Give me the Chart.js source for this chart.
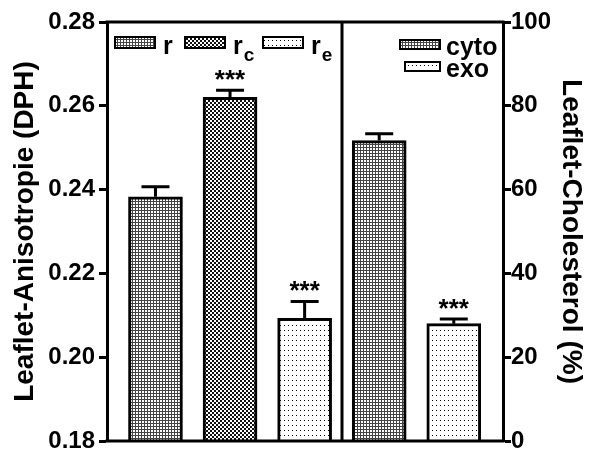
<!DOCTYPE html>
<html>
<head>
<meta charset="utf-8">
<script src="https://cdn.jsdelivr.net/npm/chart.js@4.4.0/dist/chart.umd.min.js"></script>
<style>
html, body { margin: 0; padding: 0; background: #fff; }
#wrap { width: 591px; height: 457px; }
</style>
</head>
<body>
<div id="wrap"><canvas id="chart"></canvas></div>
<script>
// left panel: anisotropy
const anisoLabels = ['r', 'r_c', 'r_e'];
const anisoValues = [0.2383, 0.2620, 0.2093];
const anisoErrors = [0.0024, 0.0017, 0.0040];
const anisoStars = ['', '***', '***'];
// right panel: cholesterol
const cholLabels = ['cyto', 'exo'];
const cholValues = [71.7, 28.0];
const cholErrors = [1.6, 1.1];
const cholStars = ['', '***'];
// axis ticks
const leftTicks = [0.18, 0.20, 0.22, 0.24, 0.26, 0.28];
const rightTicks = [0, 20, 40, 60, 80, 100];

const FONT = "'Liberation Sans', Arial, sans-serif";

function makePattern(kind) {
    const c = document.createElement('canvas');
    const ctx = c.getContext('2d');
    if (kind === 'grid') {
        c.width = 3; c.height = 3;
        ctx.fillStyle = '#fff'; ctx.fillRect(0, 0, 3, 3);
        ctx.fillStyle = '#444';
        ctx.fillRect(0, 0, 3, 1);
        ctx.fillRect(0, 0, 1, 3);
    } else if (kind === 'check') {
        c.width = 4; c.height = 4;
        ctx.fillStyle = '#fff'; ctx.fillRect(0, 0, 4, 4);
        ctx.fillStyle = '#111';
        ctx.fillRect(0, 0, 2, 2);
        ctx.fillRect(2, 2, 2, 2);
    } else {
        c.width = 4; c.height = 5;
        ctx.fillStyle = '#fff'; ctx.fillRect(0, 0, 4, 5);
        ctx.fillStyle = '#000';
        ctx.fillRect(0, 0, 1, 1);
    }
    return ctx.createPattern(c, 'repeat');
}

const pGrid = makePattern('grid');
const pCheck = makePattern('check');
const pDots = makePattern('dots');
const anisoFills = [pGrid, pCheck, pDots];
const cholFills = [pGrid, pDots];

function drawLabel(ctx, text, x, y) {
    const parts = text.split('_');
    ctx.font = 'bold 25px ' + FONT;
    ctx.fillText(parts[0], x, y);
    if (parts[1]) {
        const w = ctx.measureText(parts[0]).width;
        ctx.font = 'bold 19px ' + FONT;
        ctx.fillText(parts[1], x + w + 1, y + 7);
    }
}

const extras = {
    id: 'extras',
    afterDatasetsDraw(chart) {
        const ctx = chart.ctx;
        const a = chart.chartArea;
        const xs = chart.scales.x;
        ctx.save();
        ctx.strokeStyle = '#000';
        ctx.fillStyle = '#000';
        ctx.lineWidth = 3;
        // frame top / bottom and divider
        ctx.beginPath();
        ctx.moveTo(a.left - 1.5, a.top); ctx.lineTo(a.right + 1.5, a.top);
        ctx.moveTo(a.left - 1.5, a.bottom); ctx.lineTo(a.right + 1.5, a.bottom);
        const dx = Math.round(xs.getPixelForValue(2.5));
        ctx.moveTo(dx, a.top); ctx.lineTo(dx, a.bottom);
        ctx.stroke();

        // error bars and stars
        const groups = [
            { meta: chart.getDatasetMeta(0), scale: chart.scales.y, vals: anisoValues, errs: anisoErrors, stars: anisoStars },
            { meta: chart.getDatasetMeta(1), scale: chart.scales.y2, vals: cholValues, errs: cholErrors, stars: cholStars }
        ];
        groups.forEach(g => {
            g.meta.data.forEach((el, i) => {
                const top = g.scale.getPixelForValue(g.vals[i]);
                const cap = g.scale.getPixelForValue(g.vals[i] + g.errs[i]);
                ctx.beginPath();
                ctx.moveTo(el.x, top); ctx.lineTo(el.x, cap);
                ctx.moveTo(el.x - 14, cap); ctx.lineTo(el.x + 14, cap);
                ctx.stroke();
                if (g.stars[i]) {
                    ctx.font = 'bold 26px ' + FONT;
                    ctx.textAlign = 'center';
                    ctx.textBaseline = 'alphabetic';
                    ctx.fillText(g.stars[i], el.x, cap - 2);
                }
            });
        });

        // legends
        ctx.textAlign = 'left';
        ctx.textBaseline = 'alphabetic';
        ctx.lineWidth = 2;
        const leftBoxes = [115, 185, 263];
        anisoLabels.forEach((lab, i) => {
            ctx.fillStyle = anisoFills[i];
            ctx.fillRect(leftBoxes[i], 37, 40, 11);
            ctx.strokeRect(leftBoxes[i], 37, 40, 11);
            ctx.fillStyle = '#000';
            drawLabel(ctx, lab, leftBoxes[i] + 48, 54);
        });
        const rightBoxes = [[400, 40], [405, 62]];
        cholLabels.forEach((lab, i) => {
            const b = rightBoxes[i];
            ctx.fillStyle = cholFills[i];
            ctx.fillRect(b[0], b[1], 440 - b[0], 9);
            ctx.strokeRect(b[0], b[1], 440 - b[0], 9);
            ctx.fillStyle = '#000';
            drawLabel(ctx, lab, 446, b[1] + 15);
        });
        ctx.restore();
    }
};

const axisStyle = {
    grid: { drawOnChartArea: false, drawTicks: true, tickLength: 8, tickWidth: 3, color: '#000' },
    border: { display: true, width: 3, color: '#000' }
};
const tickFont = { family: FONT, size: 24, weight: 'bold', lineHeight: 1 };
const titleFont = { family: FONT, size: 28, weight: 'bold' };

new Chart(document.getElementById('chart'), {
    type: 'bar',
    data: {
        datasets: [
            {
                label: 'Leaflet-Anisotropie',
                data: anisoValues.map((v, i) => ({ x: i, y: v })),
                yAxisID: 'y',
                grouped: false,
                backgroundColor: anisoFills,
                borderColor: '#000',
                borderWidth: 3
            },
            {
                label: 'Leaflet-Cholesterol',
                data: cholValues.map((v, i) => ({ x: i + 3, y: v })),
                yAxisID: 'y2',
                grouped: false,
                backgroundColor: cholFills,
                borderColor: '#000',
                borderWidth: 3
            }
        ]
    },
    options: {
        responsive: true,
        maintainAspectRatio: false,
        animation: false,
        barThickness: 54,
        layout: { padding: { top: 22, bottom: 12 } },
        plugins: { legend: { display: false }, tooltip: { enabled: false } },
        scales: {
            x: {
                type: 'linear', display: false, offset: false, min: -0.65, max: 4.66,
                afterBuildTicks: s => { s.ticks = []; }
            },
            y: {
                ...axisStyle,
                position: 'left',
                min: 0.18, max: 0.28,
                afterBuildTicks: s => { s.ticks = leftTicks.map(v => ({ value: v })); },
                ticks: { color: '#000', font: tickFont, padding: 4, callback: v => v.toFixed(2) },
                title: { display: true, text: 'Leaflet-Anisotropie (DPH)', color: '#000', font: titleFont, padding: { top: 8, bottom: 0 } },
                afterFit: s => { s.width = 107; }
            },
            y2: {
                ...axisStyle,
                position: 'right',
                min: 0, max: 100,
                afterBuildTicks: s => { s.ticks = rightTicks.map(v => ({ value: v })); },
                ticks: { color: '#000', font: tickFont, padding: 0 },
                title: { display: true, text: 'Leaflet-Cholesterol (%)', color: '#000', font: titleFont, padding: { top: 3, bottom: 0 } },
                afterFit: s => { s.width = 88; }
            }
        }
    },
    plugins: [extras]
});
</script>
</body>
</html>
